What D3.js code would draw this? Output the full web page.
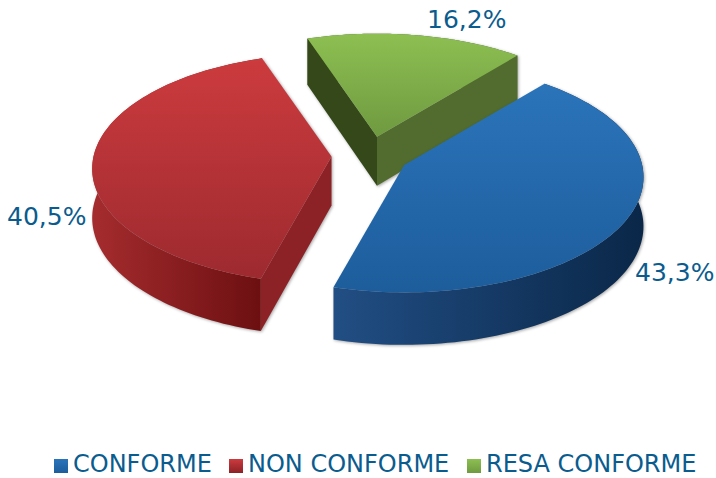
<!DOCTYPE html>
<html>
<head>
<meta charset="utf-8">
<script src="https://cdnjs.cloudflare.com/ajax/libs/d3/7.8.5/d3.min.js"></script>
<style>
    html, body { margin: 0; padding: 0; background: #fff; }
    text { font-family: "DejaVu Sans", sans-serif; font-size: 24px; fill: #0b5c8e; }
    text.value { font-size: 25px; }
</style>
</head>
<body>
<div id="viz"></div>
<script>
    // Values
    const categories = ["CONFORME", "NON CONFORME", "RESA CONFORME"];
    const values = [43.3, 40.5, 16.2];
    const valueLabels = ["43,3%", "40,5%", "16,2%"];

    // Colours: top surface (light, dark), outer wall (left, right), cut walls (start, end)
    const topColors = [["#2b74ba", "#1d5d9c"], ["#cc3b3e", "#9d2a2f"], ["#8dbf52", "#6f9a40"]];
    const wallColors = [["#214e84", "#0a2748"], ["#a52c2e", "#6c0f11"], ["#4c662a", "#4c662a"]];
    const cutColors = [["#1a4a7c", "#1a4a7c"], ["#8c2126", "#8c2126"], ["#34481a", "#516c2e"]];
    const legendColors = [["#2b74ba", "#1d5d9c"], ["#cc3b3e", "#8c2126"], ["#8dbf52", "#6f9a40"]];

    const width = 716;
    const height = 478;

    // Pie geometry
    const cx = 370, cy = 156;
    const rx = 238, ry = 114, persp = 0.105;
    const depth = 49;
    const explodeX = 38.5, explodeY = 19.5;
    const rotation = 39.6 * Math.PI / 180;

    const svg = d3.select("#viz").append("svg")
        .attr("width", width)
        .attr("height", height)
        .style("display", "block");

    const defs = svg.append("defs");

    const pie = d3.pie().sort(null)
        .startAngle(rotation)
        .endAngle(rotation + 2 * Math.PI);
    const slices = pie(values);

    // Turn a pie angle into screen position, with a bit of perspective
    function project(angle, slice, drop) {
        const u = Math.sin(angle), v = -Math.cos(angle);
        const w = 1 / (1 - persp * v);
        const mid = (slice.startAngle + slice.endAngle) / 2;
        return [
            cx + explodeX * Math.sin(mid) + rx * u * w,
            cy - explodeY * Math.cos(mid) + ry * v * w + drop * (1 + (w - 1) * 0.6)
        ];
    }

    function apex(slice, drop) {
        const mid = (slice.startAngle + slice.endAngle) / 2;
        return [cx + explodeX * Math.sin(mid), cy - explodeY * Math.cos(mid) + drop];
    }

    function arcPoints(slice, drop) {
        return d3.range(0, 101).map(i =>
            project(slice.startAngle + (slice.endAngle - slice.startAngle) * i / 100, slice, drop));
    }

    // A cut wall hangs below its edge, so it only shows if the slice lies on the other side
    function cutVisible(slice, angle) {
        const a = apex(slice, 0);
        const p = project(angle, slice, 0);
        const m = project((slice.startAngle + slice.endAngle) / 2, slice, 0);
        const side = (p[0] - a[0]) * (m[1] - a[1]) - (p[1] - a[1]) * (m[0] - a[0]);
        return side * (p[0] - a[0]) < 0;
    }

    const line = d3.line();

    function gradient(id, stops, horizontal) {
        const g = defs.append("linearGradient").attr("id", id)
            .attr("x1", 0).attr("y1", 0)
            .attr("x2", horizontal ? 1 : 0).attr("y2", horizontal ? 0 : 1);
        g.append("stop").attr("offset", "0%").attr("stop-color", stops[0]);
        g.append("stop").attr("offset", "100%").attr("stop-color", stops[1]);
    }

    categories.forEach((c, i) => {
        gradient("top" + i, topColors[i], false);
        gradient("wall" + i, wallColors[i], true);
        gradient("legend" + i, legendColors[i], false);
    });

    // Green goes first, blue last, so blue lies over the green wall
    const drawOrder = [2, 1, 0];
    const groups = svg.selectAll("g.slice")
        .data(drawOrder)
        .enter()
        .append("g")
        .attr("class", "slice")
        .style("filter", "drop-shadow(1px 1px 1.5px rgba(0,0,0,0.35))");

    groups.each(function (i) {
        const g = d3.select(this);
        const s = slices[i];

        // outer wall
        const upper = arcPoints(s, 0);
        const lower = arcPoints(s, depth).reverse();
        g.append("path")
            .attr("d", line(upper.concat(lower)) + "Z")
            .attr("fill", `url(#wall${i})`);

        // cut walls
        [s.startAngle, s.endAngle].forEach((a, k) => {
            if (!cutVisible(s, a)) return;
            const pts = [apex(s, 0), project(a, s, 0), project(a, s, depth), apex(s, depth)];
            g.append("path")
                .attr("d", line(pts) + "Z")
                .attr("fill", cutColors[i][k]);
        });

        // top surface
        g.append("path")
            .attr("d", line([apex(s, 0)].concat(upper)) + "Z")
            .attr("fill", `url(#top${i})`);
    });

    // Value labels
    const labelX = [635, 7, 427];
    const labelY = [281, 225, 28];
    svg.selectAll("text.value")
        .data(valueLabels)
        .enter()
        .append("text")
        .attr("class", "value")
        .attr("x", (d, i) => labelX[i])
        .attr("y", (d, i) => labelY[i])
        .text(d => d);

    // Legend
    const legendBoxX = [54, 229, 467];
    const legendY = 472;
    const legend = svg.selectAll("g.legend")
        .data(categories)
        .enter()
        .append("g")
        .attr("class", "legend")
        .attr("transform", (d, i) => `translate(${legendBoxX[i]},${legendY})`);
    legend.append("rect")
        .attr("y", -13)
        .attr("width", 14)
        .attr("height", 14)
        .attr("fill", (d, i) => `url(#legend${i})`);
    legend.append("text")
        .attr("x", 19)
        .text(d => d);
</script>
</body>
</html>
